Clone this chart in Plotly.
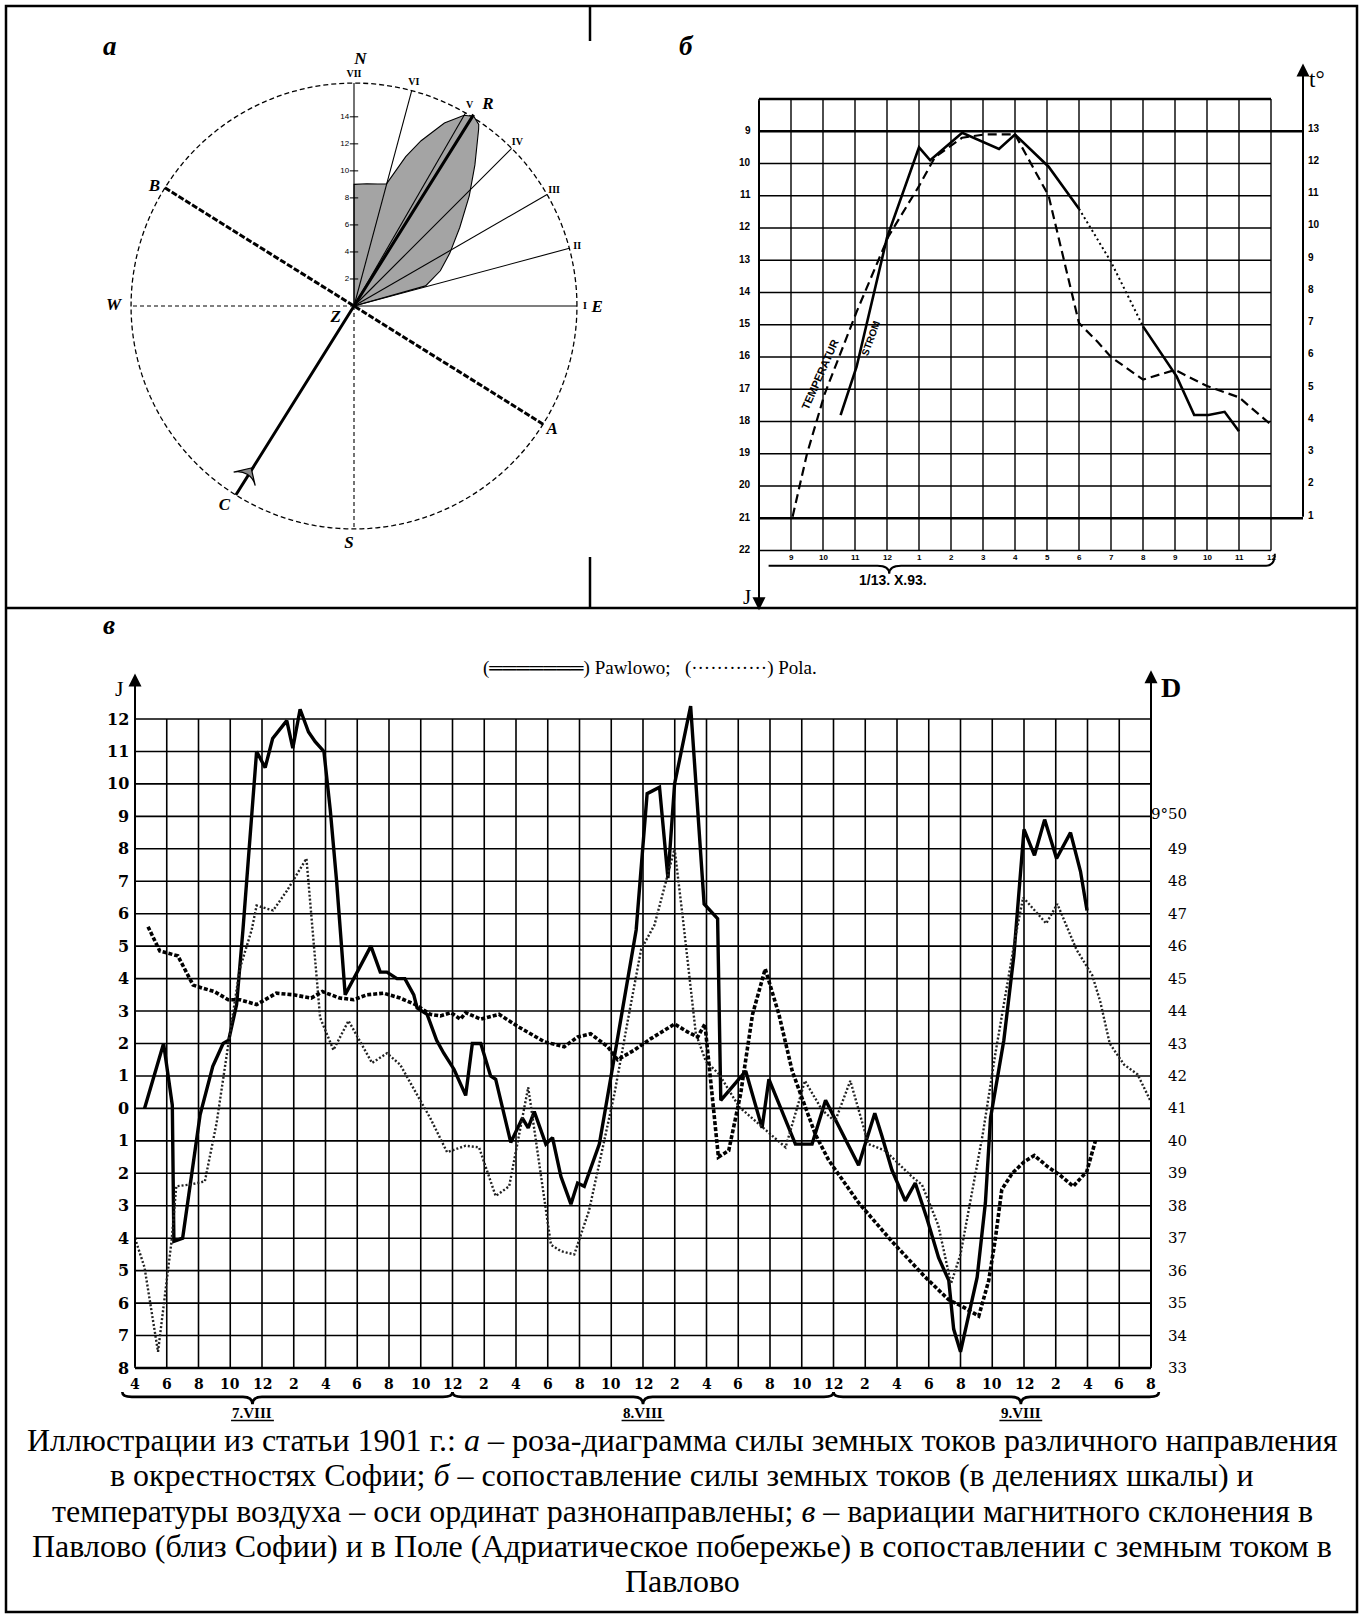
import plotly.graph_objects as go

W, H = 1364, 1614


def fx(p):
    return p / W


def fy(p):
    return 1 - p / H


# ---------------- panel а : rose diagram ----------------
ray_theta = [0, 15, 30, 45, 60, 75, 90]
ray_labels = ["I", "II", "III", "IV", "V", "VI", "VII"]
scale_r = [2, 4, 6, 8, 10, 12, 14]
scale_text = ["2", "4", "6", "8", "10", "12", "14"]
rose_radius = 16.5
petal_theta = [90, 90, 84, 79, 75.1, 70.9, 67.9, 63.7, 60, 57.7, 55.5, 54.8, 49.4, 43.7, 36.6, 28.9, 22.2, 15.7, 15.2, 90]
petal_r = [0, 9.0, 9.1, 9.2, 9.35, 11.7, 13.2, 15.1, 16.3, 16.6, 16.3, 16.0, 13.75, 11.8, 9.75, 8.1, 6.9, 5.5, 0, 0]
letter_text = ["N", "S", "E", "W", "Z", "A", "B", "C", "R"]
letter_theta = [88.5, 268.8, -0.5, 180, 212, -32, 149.2, 237, 56.4]
letter_r = [18.2, 17.6, 18.0, 17.8, 1.6, 17.3, 17.2, 17.6, 17.9]
line_AB_theta = [148, 0, 328]
line_CR_theta = [238, 0, 58]
arrow_theta, arrow_r = 237.6, 14.2

# ---------------- panel б : current vs temperature ----------------
b_grid_hours = list(range(8, 25))
b_J_ticks = list(range(9, 23))
b_t_ticks = list(range(1, 14))
b_hour_ticks = list(range(9, 25))
b_hour_labels = ["9", "10", "11", "12", "1", "2", "3", "4", "5", "6", "7", "8", "9", "10", "11", "12"]
strom1_hours = [10.55, 11.05, 12.0, 13.0, 13.35, 14.35, 15.5, 16.0, 17.05, 18.0]
strom1_J = [17.8, 16.3, 12.3, 9.5, 9.9, 9.05, 9.55, 9.1, 10.1, 11.4]
strom_gap_hours = [18.0, 19.0, 20.0]
strom_gap_J = [11.4, 13.05, 15.05]
strom2_hours = [20.0, 21.05, 21.6, 22.05, 22.55, 23.0]
strom2_J = [15.05, 16.6, 17.8, 17.8, 17.7, 18.3]
temp_hours = [9.05, 9.5, 10.05, 11.05, 12.05, 13.0, 13.5, 14.35, 15.05, 16.0, 17.05, 18.0, 18.6, 19.0, 20.0, 21.0, 22.0, 23.0, 24.0]
temp_t = [1.05, 3.0, 4.85, 7.4, 9.75, 11.3, 12.2, 12.8, 12.9, 12.9, 11.0, 7.05, 6.45, 6.0, 5.3, 5.6, 5.1, 4.75, 3.9]

# ---------------- panel в : Pawlowo / Pola ----------------
v_hour_ticks = list(range(4, 69, 2))
v_hour_labels = ["4", "6", "8", "10", "12", "2", "4", "6", "8", "10", "12",
                 "2", "4", "6", "8", "10", "12", "2", "4", "6", "8", "10", "12",
                 "2", "4", "6", "8", "10", "12", "2", "4", "6", "8"]
v_J_ticks = list(range(12, -9, -1))
v_J_labels = ["12", "11", "10", "9", "8", "7", "6", "5", "4", "3", "2", "1", "0",
              "1", "2", "3", "4", "5", "6", "7", "8"]
v_D_ticks = list(range(33, 51))
v_D_labels = ["33", "34", "35", "36", "37", "38", "39", "40", "41", "42", "43",
              "44", "45", "46", "47", "48", "49", "9°50"]
day_labels = ["7.VIII", "8.VIII", "9.VIII"]
day_centers = [11.4, 36.0, 59.8]
day_starts = [3.2, 24.0, 48.0]
day_ends = [24.0, 48.0, 68.5]

current_hours = [4.6, 5.8, 6.35, 6.45, 7.0, 8.1, 8.9, 9.55, 9.9, 10.4, 10.8, 11.66, 12.2, 12.67, 13.56, 13.94,
                 14.4, 14.93, 15.35, 15.9, 16.3, 16.7, 17.24, 17.56, 18.86, 19.45, 19.87, 20.5, 21.0, 21.56,
                 21.77, 22.4, 23.0, 23.45, 24.1, 24.83, 25.25, 25.78, 26.4, 26.72, 27.67, 28.4, 28.77, 29.15,
                 29.88, 30.3, 30.83, 31.46, 31.88, 32.3, 33.25, 33.99, 34.93, 35.57, 36.26, 37.04, 37.57,
                 37.99, 39.0, 39.46, 39.85, 40.7, 40.9, 42.47, 43.5, 43.93, 45.6, 46.65, 47.5, 49.58, 50.6,
                 51.05, 51.68, 52.52, 53.15, 53.89, 54.62, 55.26, 55.57, 56.0, 56.52, 57.05, 57.57, 57.89,
                 58.73, 59.36, 60.0, 60.66, 61.3, 62.05, 62.93, 63.56, 63.97]
current_J = [0.0, 2.0, 0.1, -4.1, -4.0, -0.2, 1.3, 2.0, 2.1, 3.2, 5.5, 11.0, 10.5, 11.4, 11.95, 11.1,
             12.3, 11.6, 11.3, 11.0, 9.2, 7.0, 3.5, 3.8, 5.0, 4.2, 4.2, 4.0, 4.0, 3.5,
             3.1, 2.9, 2.1, 1.7, 1.2, 0.4, 2.0, 2.0, 1.0, 0.9, -1.05, -0.3, -0.6, -0.1,
             -1.1, -0.9, -2.1, -2.95, -2.3, -2.4, -1.1, 1.0, 3.7, 5.5, 9.7, 9.9, 7.1,
             10.0, 12.4, 9.2, 6.3, 5.85, 0.25, 1.15, -0.6, 0.9, -1.1, -1.1, 0.25, -1.75, -0.15,
             -0.85, -1.9, -2.85, -2.3, -3.4, -4.6, -5.3, -6.8, -7.5, -6.4, -5.2, -2.9, -0.3,
             2.1, 4.7, 8.6, 7.8, 8.9, 7.7, 8.5, 7.3, 6.1]
pawlowo_hours = [4.82, 5.56, 6.7, 7.66, 8.3, 9.0, 9.87, 10.6, 11.66, 12.9, 13.98, 15.1, 15.8, 16.9, 17.77,
                 18.6, 19.66, 20.7, 21.66, 22.6, 23.24, 23.9, 24.5, 24.83, 25.78, 26.93, 28.2, 29.8, 31.04,
                 31.88, 32.7, 33.78, 34.4, 35.46, 36.5, 37.99, 38.83, 39.44, 39.9, 40.75, 41.4, 42.15, 42.9,
                 43.7, 44.56, 45.4, 45.92, 46.86, 47.7, 49.57, 51.68, 53.78, 55.26, 56.1, 57.15, 57.78,
                 58.2, 58.6, 59.26, 60.0, 60.65, 61.5, 62.25, 63.1, 63.95, 64.5]
pawlowo_D = [46.6, 45.85, 45.7, 44.8, 44.7, 44.6, 44.35, 44.35, 44.2, 44.55, 44.5, 44.4, 44.6, 44.4, 44.35,
             44.5, 44.55, 44.4, 44.2, 43.9, 43.85, 43.95, 43.75, 43.95, 43.75, 43.9, 43.5, 43.05, 42.9,
             43.2, 43.3, 42.9, 42.5, 42.8, 43.15, 43.6, 43.35, 43.2, 43.6, 39.5, 39.7, 41.45, 43.9,
             45.3, 43.9, 42.15, 41.45, 40.2, 39.4, 38.1, 36.9, 35.8, 35.1, 34.9, 34.6, 35.7,
             37.0, 38.5, 39.0, 39.35, 39.55, 39.2, 38.95, 38.6, 39.05, 40.0]
pola_hours = [4.0, 4.6, 5.45, 6.3, 6.6, 7.45, 8.4, 9.14, 9.87, 10.6, 11.35, 11.66, 12.7, 13.56, 14.8, 15.35,
              15.66, 16.5, 17.45, 18.93, 19.87, 20.7, 21.66, 22.6, 23.66, 24.83, 25.67, 26.72, 27.57, 28.09,
              28.77, 29.36, 30.2, 30.83, 31.67, 32.6, 33.35, 34.2, 35.04, 35.88, 36.72, 37.78, 37.99, 38.5,
              39.33, 39.96, 40.8, 42.05, 43.1, 44.98, 46.2, 47.28, 48.1, 49.06, 50.2, 51.25, 52.93, 53.57,
              54.6, 55.4, 56.0, 56.6, 57.4, 58.2, 59.05, 59.5, 59.95, 61.4, 62.1, 63.3, 64.3, 64.8, 65.4,
              66.3, 67.15, 68.0]
pola_D = [37.0, 36.1, 33.5, 36.9, 38.6, 38.65, 38.75, 40.55, 42.95, 45.3, 46.5, 47.25, 47.1, 47.7, 48.7, 45.5,
          43.8, 42.8, 43.7, 42.4, 42.7, 42.35, 41.5, 40.7, 39.65, 39.85, 39.8, 38.3, 38.6, 39.95,
          41.65, 39.65, 36.8, 36.6, 36.5, 37.85, 39.5, 41.45, 43.7, 45.9, 46.65, 48.6, 49.0, 46.9,
          43.3, 42.45, 42.05, 41.05, 40.6, 39.8, 41.85, 40.95, 40.6, 41.85, 39.9, 39.7, 38.9, 38.65,
          37.4, 35.6, 36.5, 38.1, 40.2, 42.7, 45.2, 46.4, 47.5, 46.7, 47.3, 45.9, 45.1, 44.3, 43.0,
          42.35, 42.05, 41.2]

caption_lines = [
    "Иллюстрации из статьи 1901 г.: <i>а</i> – роза-диаграмма силы земных токов различного направления",
    "в окрестностях Софии; <i>б</i> – сопоставление силы земных токов (в делениях шкалы) и",
    "температуры воздуха – оси ординат разнонаправлены; <i>в</i> – вариации магнитного склонения в",
    "Павлово (близ Софии) и в Поле (Адриатическое побережье) в сопоставлении с земным током в",
    "Павлово",
]

fig = go.Figure()
shapes = []
annotations = []
SERIF = "Liberation Serif"

# ======== panel а ========
P = dict(subplot="polar", showlegend=False, hoverinfo="skip")
circ = list(range(0, 362, 2))
fig.add_trace(go.Scatterpolar(theta=circ, r=[rose_radius] * len(circ), mode="lines",
                              line=dict(color="black", width=1.3, dash="5px,3px"), **P))
fig.add_trace(go.Scatterpolar(theta=petal_theta, r=petal_r, mode="lines", fill="toself",
                              fillcolor="#a4a4a4", line=dict(color="black", width=1.1), **P))
rt, rr = [], []
for t in ray_theta:
    rt += [t, t, None]
    rr += [0, rose_radius, None]
fig.add_trace(go.Scatterpolar(theta=rt, r=rr, mode="lines", line=dict(color="black", width=1.1), **P))
fig.add_trace(go.Scatterpolar(theta=[180, 180, None, 270, 270], r=[0, rose_radius, None, 0, rose_radius],
                              mode="lines", line=dict(color="black", width=1.1, dash="4px,3px"), **P))
fig.add_trace(go.Scatterpolar(theta=line_AB_theta, r=[rose_radius, 0, rose_radius], mode="lines",
                              line=dict(color="black", width=3, dash="6px,2px"), **P))
fig.add_trace(go.Scatterpolar(theta=line_CR_theta, r=[rose_radius, 0, rose_radius + 0.2], mode="lines",
                              line=dict(color="black", width=3), **P))
fig.add_trace(go.Scatterpolar(theta=[arrow_theta], r=[arrow_r], mode="markers",
                              marker=dict(symbol="arrow-wide", size=18, angle=32, color="#8a8a8a",
                                          line=dict(color="black", width=1.2)), **P))
fig.add_trace(go.Scatterpolar(theta=[90] * len(scale_r), r=scale_r, mode="markers+text", text=scale_text,
                              textposition="middle left",
                              textfont=dict(family="Liberation Sans", size=8, color="black"),
                              marker=dict(symbol="line-ew", size=6, line=dict(color="black", width=1)),
                              cliponaxis=False, **P))
fig.add_trace(go.Scatterpolar(theta=ray_theta, r=[17.1] * len(ray_theta), mode="text",
                              text=["<b>%s</b>" % s for s in ray_labels],
                              textfont=dict(family=SERIF, size=10, color="black"), cliponaxis=False, **P))
fig.add_trace(go.Scatterpolar(theta=letter_theta, r=letter_r, mode="text",
                              text=["<b><i>%s</i></b>" % s for s in letter_text],
                              textfont=dict(family=SERIF, size=17, color="black"), cliponaxis=False, **P))

# ======== panel б ========
BX, BY, BT = "x", "y", "y2"
fig.add_trace(go.Scatter(x=strom1_hours, y=strom1_J, xaxis=BX, yaxis=BY, mode="lines",
                         line=dict(color="black", width=2.6), showlegend=False))
fig.add_trace(go.Scatter(x=strom_gap_hours, y=strom_gap_J, xaxis=BX, yaxis=BY, mode="lines",
                         line=dict(color="black", width=2, dash="2px,3px"), showlegend=False))
fig.add_trace(go.Scatter(x=strom2_hours, y=strom2_J, xaxis=BX, yaxis=BY, mode="lines",
                         line=dict(color="black", width=2.6), showlegend=False))
fig.add_trace(go.Scatter(x=temp_hours, y=temp_t, xaxis=BX, yaxis=BT, mode="lines",
                         line=dict(color="black", width=2.2, dash="9px,5px"), showlegend=False))


def seg(x0, y0, x1, y1, xr, yr, w, layer="below"):
    shapes.append(dict(type="line", x0=x0, y0=y0, x1=x1, y1=y1, xref=xr, yref=yr,
                       line=dict(color="black", width=w), layer=layer))


for h in b_grid_hours:
    seg(h, 8, h, 22, BX, BY, 1.4)
for j in b_J_ticks:
    seg(8, j, 24, j, BX, BY, 1.4)
seg(8, 8, 24, 8, BX, BY, 2.4)
seg(8, 9, 25, 9, BX, BY, 2.4)
seg(8, 21, 25, 21, BX, BY, 2.4)
annotations.append(dict(x=8, y=23.85, ax=8, ay=8, xref=BX, yref=BY, axref=BX, ayref=BY, text="",
                        showarrow=True, arrowhead=2, arrowsize=1.3, arrowwidth=2, arrowcolor="black",
                        standoff=0, startstandoff=0))
annotations.append(dict(x=25, y=6.9, ax=25, ay=21, xref=BX, yref=BY, axref=BX, ayref=BY, text="",
                        showarrow=True, arrowhead=2, arrowsize=1.3, arrowwidth=2, arrowcolor="black",
                        standoff=0, startstandoff=0))
for j in b_J_ticks:
    annotations.append(dict(x=8, y=j, xref=BX, yref=BY, text="<b>%d</b>" % j, showarrow=False,
                            xanchor="right", xshift=-6, yshift=1,
                            font=dict(family="Liberation Sans", size=10, color="black")))
for t in b_t_ticks:
    annotations.append(dict(x=25, y=t, xref=BX, yref=BT, text="<b>%d</b>" % t, showarrow=False,
                            xanchor="left", xshift=3, yshift=3,
                            font=dict(family="Liberation Sans", size=10, color="black")))
for h, lab in zip(b_hour_ticks, b_hour_labels):
    annotations.append(dict(x=h, y=22, xref=BX, yref=BY, text="<b>%s</b>" % lab, showarrow=False,
                            yanchor="top", yshift=-1,
                            font=dict(family="Liberation Sans", size=8, color="black")))
shapes.append(dict(type="path", xref=BX, yref=BY, layer="below",
                   path="M 8.3,22.47 L 11.7,22.47 Q 12.07,22.47 12.07,22.72 Q 12.07,22.47 12.44,22.47 "
                        "L 23.85,22.47 Q 24.12,22.47 24.12,22.1",
                   line=dict(color="black", width=2)))
annotations.append(dict(x=12.19, y=22.9, xref=BX, yref=BY, text="<b>1/13. X.93.</b>", showarrow=False,
                        font=dict(family="Liberation Sans", size=14, color="black")))
annotations.append(dict(x=7.62, y=23.45, xref=BX, yref=BY, text="J", showarrow=False,
                        font=dict(family=SERIF, size=21, color="black")))
annotations.append(dict(x=25.45, y=7.4, xref=BX, yref=BY, text="t°", showarrow=False,
                        font=dict(family=SERIF, size=23, color="black")))
annotations.append(dict(x=9.91, y=16.53, xref=BX, yref=BY, text="<b>TEMPERATUR</b>", showarrow=False,
                        textangle=-66, font=dict(family="Liberation Sans", size=11, color="black")))
annotations.append(dict(x=11.49, y=15.43, xref=BX, yref=BY, text="<b>STROM</b>", showarrow=False,
                        textangle=-70, font=dict(family="Liberation Sans", size=10, color="black")))

# ======== panel в ========
VX, VJ, VD = "x2", "y3", "y4"
for h in v_hour_ticks:
    seg(h, -8, h, 12, VX, VJ, 1.6)
for j in v_J_ticks:
    seg(4, j, 68, j, VX, VJ, 1.6)
seg(4, -8, 68, -8, VX, VJ, 2.4)
annotations.append(dict(x=4, y=13.4, ax=4, ay=-8, xref=VX, yref=VJ, axref=VX, ayref=VJ, text="",
                        showarrow=True, arrowhead=2, arrowsize=1.3, arrowwidth=2, arrowcolor="black",
                        standoff=0, startstandoff=0))
annotations.append(dict(x=68, y=13.5, ax=68, ay=-8, xref=VX, yref=VJ, axref=VX, ayref=VJ, text="",
                        showarrow=True, arrowhead=2, arrowsize=1.3, arrowwidth=2, arrowcolor="black",
                        standoff=0, startstandoff=0))
fig.add_trace(go.Scatter(x=pola_hours, y=pola_D, xaxis=VX, yaxis=VD, mode="lines",
                         line=dict(color="#222222", width=2.4, dash="2px,2px"), showlegend=False))
fig.add_trace(go.Scatter(x=pawlowo_hours, y=pawlowo_D, xaxis=VX, yaxis=VD, mode="lines",
                         line=dict(color="black", width=3.6, dash="4px,2px"), showlegend=False))
fig.add_trace(go.Scatter(x=current_hours, y=current_J, xaxis=VX, yaxis=VJ, mode="lines",
                         line=dict(color="black", width=3.4), showlegend=False))
for j, lab in zip(v_J_ticks, v_J_labels):
    annotations.append(dict(x=4, y=j, xref=VX, yref=VJ, text="<b>%s</b>" % lab, showarrow=False,
                            xanchor="right", xshift=-4,
                            font=dict(family="DejaVu Serif", size=16, color="black")))
for d, lab in zip(v_D_ticks, v_D_labels):
    annotations.append(dict(x=68, y=d, xref=VX, yref=VD, text=lab, showarrow=False,
                            xanchor="right", xshift=38, yshift=2 if d == 50 else 0,
                            font=dict(family="DejaVu Serif", size=15, color="black")))
for h, lab in zip(v_hour_ticks, v_hour_labels):
    annotations.append(dict(x=h, y=-8, xref=VX, yref=VJ, text="<b>%s</b>" % lab, showarrow=False,
                            yanchor="top", yshift=-6,
                            font=dict(family="DejaVu Serif", size=14, color="black")))
for x0, x1, xm, lab in zip(day_starts, day_ends, day_centers, day_labels):
    yb, tip, up, r = -8.89, -9.12, -8.74, 0.6
    path = ("M %g,%g Q %g,%g %g,%g L %g,%g Q %g,%g %g,%g Q %g,%g %g,%g L %g,%g Q %g,%g %g,%g"
            % (x0, up, x0, yb, x0 + r, yb, xm - r, yb, xm, yb, xm, tip, xm, yb, xm + r, yb,
               x1 - r, yb, x1, yb, x1, up))
    shapes.append(dict(type="path", xref=VX, yref=VJ, path=path, layer="below",
                       line=dict(color="black", width=2.6)))
    annotations.append(dict(x=xm, y=-9.39, xref=VX, yref=VJ, text="<b>%s</b>" % lab, showarrow=False,
                            yanchor="middle", font=dict(family=SERIF, size=15, color="black")))
    seg(xm - 1.35, -9.62, xm + 1.35, -9.62, VX, VJ, 1.6)
annotations.append(dict(x=3.05, y=12.95, xref=VX, yref=VJ, text="J", showarrow=False,
                        font=dict(family=SERIF, size=22, color="black")))
annotations.append(dict(x=69.25, y=12.96, xref=VX, yref=VJ, text="<b>D</b>", showarrow=False,
                        font=dict(family=SERIF, size=28, color="black")))
annotations.append(dict(x=fx(650), y=fy(668), xref="paper", yref="paper", showarrow=False,
                        text="(<b>═══════</b>) Pawlowo;   (············) Pola.",
                        font=dict(family=SERIF, size=19, color="black")))

# ======== frame, panel letters, caption ========
frame = dict(color="black", width=2.5)
shapes.append(dict(type="rect", xref="paper", yref="paper", x0=fx(6), x1=fx(1357), y0=fy(1612), y1=fy(6),
                   line=frame))
shapes.append(dict(type="line", xref="paper", yref="paper", x0=fx(6), x1=fx(1357), y0=fy(608), y1=fy(608),
                   line=frame))
shapes.append(dict(type="line", xref="paper", yref="paper", x0=fx(590), x1=fx(590), y0=fy(6), y1=fy(41),
                   line=frame))
shapes.append(dict(type="line", xref="paper", yref="paper", x0=fx(590), x1=fx(590), y0=fy(557), y1=fy(608),
                   line=frame))
for lab, (x, y) in zip(["а", "б", "в"], [(101, 29), (686, 29), (101, 625)]):
    annotations.append(dict(x=fx(x), y=fy(y), xref="paper", yref="paper", showarrow=False,
                            text="<b><i>%s</i></b>" % lab, font=dict(family=SERIF, size=27, color="black")))
for i, line in enumerate(caption_lines):
    annotations.append(dict(x=0.5, y=fy(1440 + 35.25 * i), xref="paper", yref="paper", showarrow=False,
                            text=line, yanchor="middle",
                            font=dict(family=SERIF, size=32, color="black")))

hidden = dict(visible=False, showgrid=False, zeroline=False)
fig.update_layout(
    width=W, height=H, margin=dict(l=0, r=0, t=0, b=0),
    paper_bgcolor="white", plot_bgcolor="rgba(0,0,0,0)", showlegend=False,
    polar=dict(domain=dict(x=[fx(90.5), fx(617.5)], y=[fy(569.5), fy(42.5)]), bgcolor="rgba(0,0,0,0)",
               radialaxis=dict(range=[0, 19.5], visible=False, showgrid=False, showline=False),
               angularaxis=dict(visible=False, rotation=0, direction="counterclockwise",
                                showgrid=False, showline=False)),
    xaxis=dict(domain=[fx(727), fx(1335)], range=[7, 26], anchor="y", **hidden),
    yaxis=dict(domain=[fy(647.25), fy(2.25)], range=[25, 5], anchor="x", **hidden),
    yaxis2=dict(range=[-3, 17], overlaying="y", anchor="x", side="right", **hidden),
    xaxis2=dict(domain=[fx(103.25), fx(1182.75)], range=[2, 70], anchor="y3", **hidden),
    yaxis3=dict(domain=[fy(1432.9), fy(654.1)], range=[-10, 14], anchor="x2", **hidden),
    yaxis4=dict(range=[31, 55], overlaying="y3", anchor="x2", side="right", **hidden),
    shapes=shapes, annotations=annotations,
)
fig.write_html("out.html", config={"displayModeBar": False},
               post_script="document.body.style.margin='0px';")
